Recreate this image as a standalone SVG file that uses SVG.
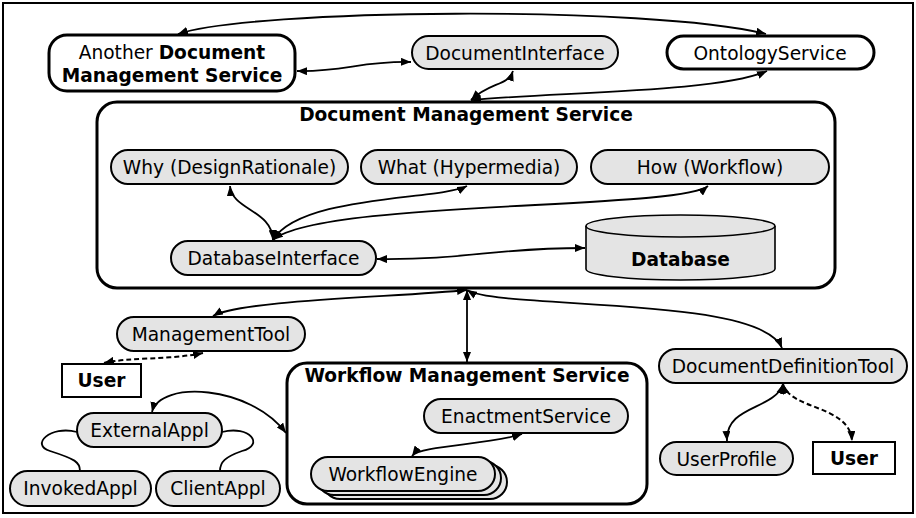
<svg xmlns="http://www.w3.org/2000/svg" width="916" height="518" viewBox="0 0 916 518">
  <style>
    text { font-family: "DejaVu Sans", Verdana, sans-serif; font-size: 18.6px; fill: #000; text-anchor: middle; }
    .b { font-weight: bold; }
    .pill { fill: #e4e4e4; stroke: #000; stroke-width: 2; }
    .svc { fill: #fff; stroke: #000; stroke-width: 3; }
    .box { fill: #fff; stroke: #000; stroke-width: 2; }
    .link { fill: none; stroke: #000; stroke-width: 1.8; marker-start: url(#ah); marker-end: url(#ah); }
    .plain { fill: none; stroke: #000; stroke-width: 1.8; }
    .dash { stroke-dasharray: 5 3; stroke-width: 2; }
  </style>
  <defs>
    <marker id="ah" viewBox="0 0 10 8" refX="10" refY="4" markerWidth="10" markerHeight="8" markerUnits="userSpaceOnUse" orient="auto-start-reverse">
      <path d="M0,0 L10,4 L0,8 z" fill="#000"/>
    </marker>
  </defs>

  <rect x="3" y="3" width="910" height="510" fill="#fff" stroke="#000" stroke-width="2"/>

  <!-- service containers -->
  <g id="dms">
    <rect class="svc" x="97" y="102" width="738" height="186" rx="20"/>
    <text class="b" x="466" y="121">Document Management Service</text>
  </g>
  <g id="wms">
    <rect class="svc" x="287" y="363" width="360" height="141" rx="20"/>
    <text class="b" x="467" y="382">Workflow Management Service</text>
  </g>

  <!-- top row -->
  <g id="another-dms">
    <rect class="svc" x="49" y="35" width="246" height="56" rx="18"/>
    <text x="172" y="59">Another <tspan class="b">Document</tspan></text>
    <text class="b" x="172" y="82">Management Service</text>
  </g>
  <g id="document-interface">
    <rect class="pill" x="412" y="36" width="206" height="33" rx="16.5"/>
    <text x="515" y="60">DocumentInterface</text>
  </g>
  <g id="ontology-service">
    <rect class="svc" x="667" y="36" width="207" height="33" rx="16.5"/>
    <text x="770" y="60">OntologyService</text>
  </g>

  <!-- inside the document management service -->
  <g id="why">
    <rect class="pill" x="111" y="150" width="237" height="34" rx="17"/>
    <text x="229.5" y="174">Why (DesignRationale)</text>
  </g>
  <g id="what">
    <rect class="pill" x="361" y="150" width="216" height="34" rx="17"/>
    <text x="469" y="174">What (Hypermedia)</text>
  </g>
  <g id="how">
    <rect class="pill" x="591" y="150" width="238" height="34" rx="17"/>
    <text x="710" y="174">How (Workflow)</text>
  </g>
  <g id="database-interface">
    <rect class="pill" x="171" y="241" width="205" height="34" rx="17"/>
    <text x="273.5" y="265">DatabaseInterface</text>
  </g>
  <g id="database">
    <path d="M586,226 L586,269 A94.5,11 0 0 0 775,269 L775,226" fill="#e4e4e4" stroke="#000" stroke-width="1.6"/>
    <ellipse cx="680.5" cy="226" rx="94.5" ry="11" fill="#e4e4e4" stroke="#000" stroke-width="1.6"/>
    <text class="b" x="680.5" y="266">Database</text>
  </g>

  <!-- lower left -->
  <g id="management-tool">
    <rect class="pill" x="117" y="317" width="188" height="34" rx="17"/>
    <text x="211" y="341">ManagementTool</text>
  </g>
  <g id="user-left">
    <rect class="box" x="62" y="364" width="79" height="33"/>
    <text class="b" x="101.5" y="387">User</text>
  </g>
  <g id="external-appl">
    <rect class="pill" x="77" y="413" width="145" height="34" rx="17"/>
    <text x="149.5" y="437">ExternalAppl</text>
  </g>
  <g id="invoked-appl">
    <rect class="pill" x="10" y="471" width="141" height="35" rx="17.5"/>
    <text x="80.5" y="495">InvokedAppl</text>
  </g>
  <g id="client-appl">
    <rect class="pill" x="156" y="471" width="124" height="35" rx="17.5"/>
    <text x="218" y="495">ClientAppl</text>
  </g>

  <!-- inside the workflow management service -->
  <g id="enactment-service">
    <rect class="pill" x="424" y="399" width="204" height="34" rx="17"/>
    <text x="526" y="423">EnactmentService</text>
  </g>
  <g id="workflow-engine">
    <rect class="pill" x="323" y="465" width="184" height="34" rx="17"/>
    <rect class="pill" x="317" y="461" width="184" height="34" rx="17"/>
    <rect class="pill" x="311" y="457" width="184" height="34" rx="17"/>
    <text x="403" y="481">WorkflowEngine</text>
  </g>

  <!-- lower right -->
  <g id="document-definition-tool">
    <rect class="pill" x="659" y="349" width="248" height="34" rx="17"/>
    <text x="783" y="373">DocumentDefinitionTool</text>
  </g>
  <g id="user-profile">
    <rect class="pill" x="660" y="442" width="133" height="33" rx="16.5"/>
    <text x="726.5" y="466">UserProfile</text>
  </g>
  <g id="user-right">
    <rect class="box" x="813" y="442" width="82" height="32"/>
    <text class="b" x="854" y="465">User</text>
  </g>

  <!-- connectors -->
  <g id="connectors">
    <path class="link" d="M178,34 C250,9 650,5 766,34"/>
    <path class="link" d="M297,71 C345,72 360,61 411,62"/>
    <path class="link" d="M513,71 C508,86 490,82 471,100"/>
    <path class="link" d="M471,100 C560,92 720,92 767,71"/>

    <path class="link" d="M230,186 C232,210 272,210 273,240"/>
    <path class="link" d="M467,186 C440,200 300,195 273,240"/>
    <path class="link" d="M708,186 C680,210 320,200 273,240"/>
    <path class="link" d="M377,259 C470,260 490,248 585,248"/>

    <path class="link" d="M213,316 C240,300 400,297 467,290"/>
    <path class="link" d="M467,290 L467,362"/>
    <path class="link" d="M467,290 C500,310 760,295 782,348"/>

    <path class="link dash" d="M203,353 C170,360 130,357 104,363"/>
    <path class="link" d="M152,412 C160,380 250,385 286,433"/>
    <path class="plain" d="M77,432 C50,425 30,445 50,451 C75,459 80,462 80,471"/>
    <path class="plain" d="M222,432 C250,425 265,445 242,451 C225,457 220,462 220,471"/>

    <path class="link" d="M412,456 C420,445 490,445 522,434"/>

    <path class="link" d="M783,384 C775,410 725,405 727,441"/>
    <path class="link dash" d="M783,384 C790,410 850,405 852,441"/>
  </g>
</svg>
